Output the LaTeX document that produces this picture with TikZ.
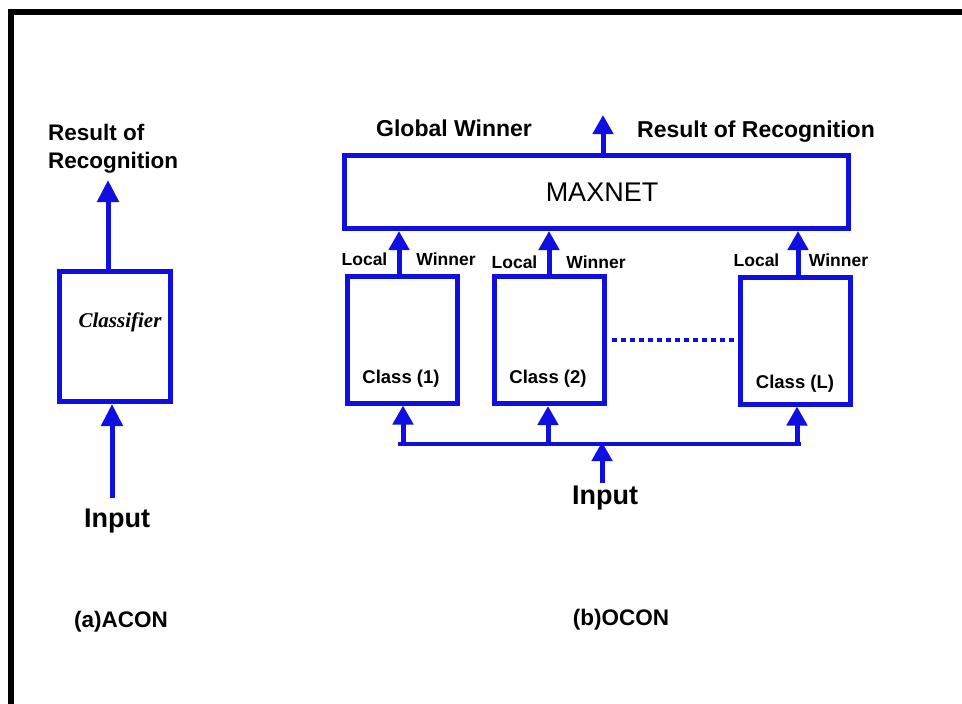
\documentclass[tikz,border=0pt]{standalone}
\usepackage{fontspec}
\usetikzlibrary{arrows.meta}
\newfontfamily\sansfam{Liberation Sans}
\newfontfamily\seriffam{Liberation Serif}
\definecolor{netblue}{RGB}{15,15,225}
\tikzset{
  blk/.style={draw=netblue, line width=5pt, inner sep=0pt},
  classbox/.style={blk, minimum width=110pt, minimum height=127pt},
  upar/.style={draw=netblue, line width=5pt, -{Triangle[width=20pt,length=19pt]}},
  bigar/.style={draw=netblue, line width=5pt, -{Triangle[width=21pt,length=22pt]}},
  bus/.style={draw=netblue, line width=4pt},
  dotline/.style={draw=netblue, line width=4pt, dash pattern=on 5pt off 4pt},
  lbl/.style={inner sep=0pt, text=black, font=\sansfam\bfseries\fontsize{#1}{#1}\selectfont},
  lbl/.default=22,
}
\begin{document}
\begin{tikzpicture}[x=1pt, y=-1pt]
  \fill[white] (0,0) rectangle (962,704);
  \useasboundingbox (0,0) rectangle (962,704);

  % frame
  \draw[line width=6pt, line join=miter] (11,704) -- (11,12) -- (962,12);

  % ---------------- (a) ACON ----------------
  \node[blk, minimum width=111pt, minimum height=130pt] (clsf) at (115,336.5) {};
  \node[inner sep=0pt, font=\seriffam\bfseries\itshape\fontsize{21}{21}\selectfont] (clsftxt) at (120,322) {Classifier};
  \node[lbl, align=left, anchor=west, font=\sansfam\bfseries\fontsize{22.5}{28}\selectfont] (resAtxt) at (48,149) {Result of\\Recognition};
  \coordinate (resA) at (108,180);
  \draw[bigar] (clsf.north -| resA) -- (resA);
  \node[lbl=27] (inAtxt) at (117,521) {Input};
  \coordinate (inA) at (112,498);
  \draw[bigar] (inA) -- (inA |- clsf.south);
  \node[lbl=22.5] (capA) at (121,622) {(a)ACON};

  % ---------------- (b) OCON ----------------
  \node[blk, minimum width=504pt, minimum height=73pt] (maxnet) at (596.5,192) {};
  \node[inner sep=0pt, font=\sansfam\fontsize{27}{27}\selectfont] (maxtxt) at (602,192) {MAXNET};
  \node[lbl=23] (gwin) at (454,128) {Global Winner};
  \node[lbl=23] (resB) at (756,132) {Result of Recognition};
  \coordinate (resBtip) at (603,115);
  \draw[upar] (maxnet.north -| resBtip) -- (resBtip);

  % class boxes
  \node[classbox] (c1) at (402,339.5) {};
  \node[classbox] (c2) at (549.5,340) {};
  \node[classbox] (cL) at (795,340.5) {};
  \node[lbl=18.5] (c1txt) at (401,379) {Class (1)};
  \node[lbl=18.5] (c2txt) at (548,379) {Class (2)};
  \node[lbl=18.5] (cLtxt) at (795,384) {Class (L)};

  % local winners into the MAXNET
  \draw[upar] ([xshift=-3pt]c1.north) -- ([xshift=-3pt]c1.north |- maxnet.south);
  \draw[upar] ([xshift=-0.5pt]c2.north) -- ([xshift=-0.5pt]c2.north |- maxnet.south);
  \draw[upar] ([xshift=3pt]cL.north) -- ([xshift=3pt]cL.north |- maxnet.south);
  \node[lbl=17.5] (l1) at (364.5,259) {Local};
  \node[lbl=17.5] (w1) at (446,259) {Winner};
  \node[lbl=17.5] (l2) at (514.5,262) {Local};
  \node[lbl=17.5] (w2) at (596,262) {Winner};
  \node[lbl=17.5] (lL) at (756.5,260) {Local};
  \node[lbl=17.5] (wL) at (838.5,260) {Winner};

  % dotted link between class (2) and class (L)
  \draw[dotline] ([xshift=5pt]c2.east) -- (cL.west |- c2.east);

  % shared input bus
  \coordinate (busL) at (398,444);
  \coordinate (busR) at (801,444);
  \draw[bus] (busL) -- (busR);
  \draw[upar] ([xshift=1pt]c1.south |- busL) -- ([xshift=1pt]c1.south);
  \draw[upar] ([xshift=-1.5pt]c2.south |- busL) -- ([xshift=-1.5pt]c2.south);
  \draw[upar] ([xshift=2pt]cL.south |- busL) -- ([xshift=2pt]cL.south);
  \coordinate (inB) at (602,483);
  \draw[upar] (inB) -- ([yshift=2pt]inB |- busL);
  \node[lbl=27] (inBtxt) at (605,498) {Input};
  \node[lbl=22.5] (capB) at (621,620) {(b)OCON};
\end{tikzpicture}
\end{document}
